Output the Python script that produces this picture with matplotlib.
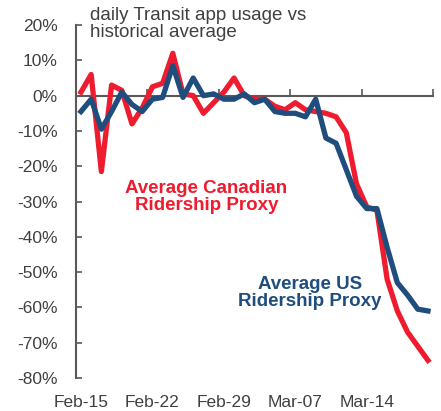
import numpy as np
import pandas as pd
import matplotlib
matplotlib.use('Agg')
import matplotlib.pyplot as plt

plt.rcParams['font.family'] = ['Liberation Sans', 'DejaVu Sans']

# ── Data ──────────────────────────────────────────────────────────────────────
dates = pd.date_range('2020-02-15', '2020-03-20', freq='D')
canada = [1, 6, -21.5, 3, 1.5, -8, -3.5, 2.5, 3.5, 12, 0.5,
          0, -5, -2, 1, 5, 0, -1, -1, -3, -4,
          -2, -4, -4.5, -5, -6, -10.5, -25, -31.5, -32.5, -52,
          -61, -67, -71, -75]
us = [-4.5, -1, -9.5, -4.5, 1, -2.5, -4.5, -1, -0.5, 8.5, -0.5,
      5, 0, 0.5, -1, -1, 0.5, -2, -1, -4.5, -5,
      -5, -6, -1, -12, -13.5, -21, -28.5, -32, -32, -43,
      -53, -56.5, -60.5, -61]
label_days = ['2020-02-15', '2020-02-22', '2020-02-29', '2020-03-07', '2020-03-14']
label_text = ['Feb-15', 'Feb-22', 'Feb-29', 'Mar-07', 'Mar-14']
y_ticks = list(range(-80, 21, 10))

RED = '#EE1C2E'
BLUE = '#1F4E7E'
GREY = '#595959'
TXT = '#404040'

x = np.arange(len(dates))
label_pos = [dates.get_loc(pd.Timestamp(d)) for d in label_days]

fig = plt.figure(figsize=(4.41, 4.11), dpi=100)
ax = fig.add_axes([0.172, 0.0803, 0.810, 0.8587])

ax.plot(x, canada, color=RED, lw=3.8, solid_joinstyle='round', zorder=3)
ax.plot(x, us, color=BLUE, lw=3.8, solid_joinstyle='round', zorder=4)

ax.set_xlim(-0.5, len(dates) - 0.5)
ax.set_ylim(-80, 20)

# y axis
ax.set_yticks(y_ticks)
ax.set_yticklabels([f'{v}%' for v in y_ticks], fontsize=12.5, color=TXT)
ax.tick_params(axis='y', direction='in', length=4, width=1.2, color=GREY, pad=13)

# x axis line sits on zero, ticks between weeks
ax.spines['bottom'].set_position(('data', 0))
ax.spines['bottom'].set_color(GREY)
ax.spines['bottom'].set_linewidth(1.5)
ax.spines['left'].set_color(GREY)
ax.spines['left'].set_linewidth(1.5)
ax.spines['top'].set_visible(False)
ax.spines['right'].set_visible(False)
ax.set_xticks(np.arange(-0.5, len(dates), 7))
ax.tick_params(axis='x', direction='in', length=5, width=1.2, color=GREY,
               labelbottom=False)

# date labels at the bottom of the plot area
sec = ax.secondary_xaxis('bottom')
sec.set_xticks(label_pos)
sec.set_xticklabels(label_text, fontsize=12.5, color=TXT)
sec.tick_params(length=0, pad=12)
sec.spines['bottom'].set_visible(False)

ax.text(0.9, 20.3, 'daily Transit app usage vs\nhistorical average',
        fontsize=13.5, color=TXT, ha='left', va='center', linespacing=0.95)

ax.text(12.3, -28.6, 'Average Canadian\nRidership Proxy', fontsize=13.5,
        fontweight='bold', color=RED, ha='center', va='center', linespacing=1.0)
ax.text(22.45, -55.8, 'Average US\nRidership Proxy', fontsize=13.5,
        fontweight='bold', color=BLUE, ha='center', va='center', linespacing=1.0)

plt.savefig('out.png', dpi=100)
plt.close()
